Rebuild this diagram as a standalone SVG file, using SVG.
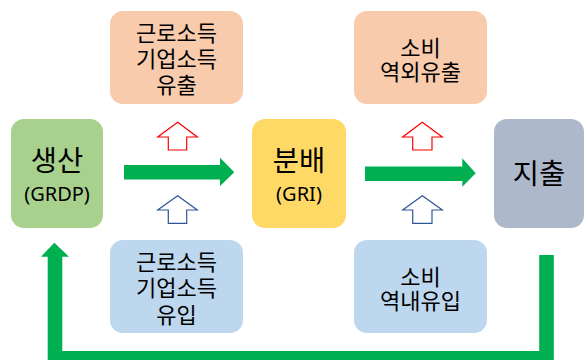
<svg xmlns="http://www.w3.org/2000/svg" width="585" height="360" viewBox="0 0 585 360">
<style>
.kr{font-family:"Noto Sans CJK KR","Noto Sans",sans-serif;fill:#000;text-anchor:middle}
.big{font-size:28.5px}
.sm{font-size:22px}
.lat{font-family:"Noto Sans","Open Sans",sans-serif;font-size:20px;fill:#000;text-anchor:middle}
.up-r{fill:#fff;stroke:#FF0000;stroke-width:1.2}
.up-b{fill:#fff;stroke:#2F5597;stroke-width:1.2}
.grn{fill:#00B050}
</style>
<rect width="585" height="360" fill="#fff"/>
<g id="connectors">
<polygon class="grn" points="124,165 220,165 220,157.7 234.3,172.3 220,186 220,179.5 124,179.5"/>
<polygon class="grn" points="365,166.5 462.3,166.5 462.3,158.3 475.7,173.3 462.3,186.7 462.3,181 365,181"/>
<polyline points="546.5,255 546.5,358.2 55,358.2 55,255" fill="none" stroke="#00B050" stroke-width="14.6"/>
<polygon class="grn" points="41,256.7 54.3,242.7 69,256.7"/>
<polygon class="up-r" points="177.7,122.3 197.3,137 186.7,137 186.7,150 168.3,150 168.3,137 157.7,137"/>
<polygon class="up-b" points="177.7,195.7 197.3,210 186.7,210 186.7,223.3 168.3,223.3 168.3,210 157.7,210"/>
<polygon class="up-r" points="422.3,122.3 442.3,137 432,137 432,150 412.7,150 412.7,137 402.7,137"/>
<polygon class="up-b" points="422.3,195.7 442.3,210 432,210 432,223.3 412.7,223.3 412.7,210 402.7,210"/>
</g>
<g id="production">
<rect x="11" y="119" width="92" height="109" rx="13" fill="#A9D18E"/>
<text class="kr big" x="57" y="171">생산</text>
<text class="lat" x="57" y="201">(GRDP)</text>
</g>
<g id="distribution">
<rect x="252" y="119" width="94" height="109" rx="13" fill="#FFD966"/>
<text class="kr big" x="299" y="171">분배</text>
<text class="lat" x="299" y="201">(GRI)</text>
</g>
<g id="expenditure">
<rect x="494" y="119" width="90" height="109" rx="13" fill="#ADB9CA"/>
<text class="kr big" x="539" y="184">지출</text>
</g>
<g id="income-outflow">
<rect x="110" y="11" width="133" height="93" rx="13" fill="#F8CBAD"/>
<text class="kr sm" x="176.5" y="40.5">근로소득</text>
<text class="kr sm" x="176.5" y="66.5">기업소득</text>
<text class="kr sm" x="176.5" y="92.5">유출</text>
</g>
<g id="consumption-outflow">
<rect x="354" y="11" width="133" height="93" rx="13" fill="#F8CBAD"/>
<text class="kr sm" x="420.5" y="55.5">소비</text>
<text class="kr sm" x="420.5" y="79.5">역외유출</text>
</g>
<g id="income-inflow">
<rect x="110" y="240" width="133" height="93" rx="13" fill="#BDD7EE"/>
<text class="kr sm" x="176.5" y="270">근로소득</text>
<text class="kr sm" x="176.5" y="296">기업소득</text>
<text class="kr sm" x="176.5" y="322.5">유입</text>
</g>
<g id="consumption-inflow">
<rect x="354" y="240" width="133" height="93" rx="13" fill="#BDD7EE"/>
<text class="kr sm" x="420.5" y="285">소비</text>
<text class="kr sm" x="420.5" y="309">역내유입</text>
</g>
</svg>
